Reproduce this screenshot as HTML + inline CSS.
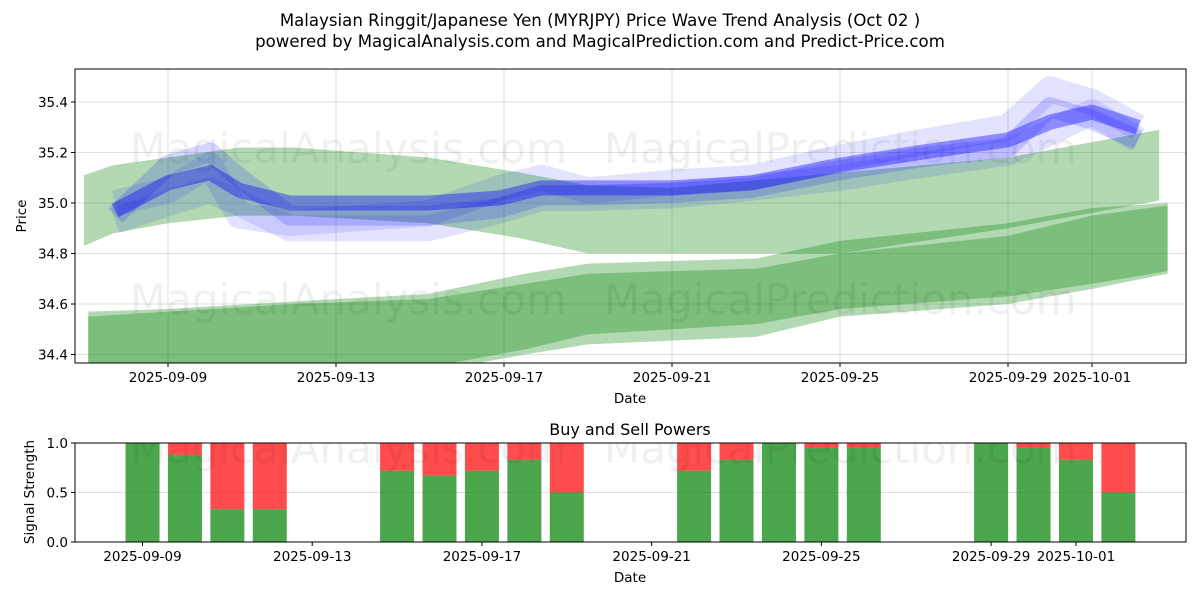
<!DOCTYPE html>
<html><head><meta charset="utf-8"><style>
html,body{margin:0;padding:0;background:#fff}
svg{display:block;font-family:"DejaVu Sans","Liberation Sans",sans-serif}
</style></head><body>
<svg id="c" width="1200" height="600" xmlns="http://www.w3.org/2000/svg"></svg>
<script>
// ---- data ----
const tickDays = [0, 4, 8, 12, 16, 20, 22];
const tickLabels = ["2025-09-09","2025-09-13","2025-09-17","2025-09-21","2025-09-25","2025-09-29","2025-10-01"];
const priceTicks = [34.4, 34.6, 34.8, 35.0, 35.2, 35.4];
const bandADays = [-2, -1.3, 0, 1.7, 3, 6.2, 8.4, 10, 12, 16, 20, 23.6];
const bandAUpper = [35.11,35.15,35.18,35.22,35.22,35.18,35.12,35.07,35.06,35.12,35.18,35.29];
const bandALower = [34.83,34.88,34.92,34.95,34.95,34.92,34.86,34.80,34.80,34.80,34.90,35.01];
const bandBDays = [-1.9, 0, 3, 6.2, 8.5, 10, 14, 16, 20, 22, 23.8];
const bandBUpper = [34.55,34.57,34.60,34.62,34.68,34.72,34.74,34.80,34.87,34.95,34.99];
const bandBLower = [34.30,34.30,34.32,34.35,34.42,34.48,34.52,34.58,34.63,34.68,34.73];
const bandCUpper = [34.57,34.58,34.61,34.64,34.72,34.76,34.78,34.85,34.92,34.98,35.00];
const bandCLower = [34.27,34.28,34.30,34.33,34.40,34.44,34.47,34.55,34.60,34.66,34.72];
const waveDays = [-1.26,0,1,1.7,2.9,6.2,7.9,8.9,10,12,13.9,16,17.9,20,21,22,23.1];
const wave1 = [34.97,35.08,35.12,35.05,35.00,35.00,35.02,35.06,35.06,35.06,35.08,35.15,35.20,35.25,35.32,35.36,35.30];
const wave2 = [34.95,35.15,35.20,35.10,34.95,34.95,34.98,35.03,35.03,35.04,35.06,35.13,35.18,35.22,35.38,35.33,35.25];
const wave3 = [35.00,35.05,35.15,34.95,34.92,34.96,35.06,35.10,35.05,35.08,35.10,35.18,35.24,35.30,35.45,35.40,35.30];
const wave4 = [34.93,35.00,35.05,35.00,34.90,34.90,34.97,35.02,35.02,35.03,35.06,35.10,35.15,35.20,35.28,35.36,35.25];
const barDays = [0,1,2,3,6,7,8,9,10,13,14,15,16,17,20,21,22,23];
const buyVals = [1.0,0.88,0.33,0.33,0.72,0.67,0.72,0.83,0.5,0.72,0.83,1.0,0.95,0.95,1.0,0.95,0.83,0.5];
const sigTicks = [0.0, 0.5, 1.0];

// ---- scales ----
const X0=75, X1=1186;
const xs = d => 168 + d*42;
const xb = d => 142.5 + d*42.43;
const yTop=69, yBot=363;
const yp = v => 203 - (v-35.0)*252.5;
const bTop=443, bBot=542;
const yb = v => bBot - v*(bBot-bTop);
const FS=13.5;

const svg=document.getElementById('c');
const NS="http://www.w3.org/2000/svg";
function mk(tag, attrs, parent){const e=document.createElementNS(NS,tag);for(const k in attrs)e.setAttribute(k,attrs[k]);(parent||svg).appendChild(e);return e;}
function txt(s, attrs, parent){const e=mk('text',attrs,parent);e.textContent=s;return e;}

// titles
let t=txt("Malaysian Ringgit/Japanese Yen (MYRJPY) Price Wave Trend Analysis (Oct 02 )",{x:600,y:26,'text-anchor':'middle','font-size':16.6,fill:'#000'});


t=txt("powered by MagicalAnalysis.com and MagicalPrediction.com and Predict-Price.com",{x:600,y:47,'text-anchor':'middle','font-size':16.6,fill:'#000'});



// ---- top plot ----
const defs=mk('defs',{});
const cp=mk('clipPath',{id:'cp1'},defs);
mk('rect',{x:X0,y:yTop,width:X1-X0,height:yBot-yTop},cp);
const g=mk('g',{'clip-path':'url(#cp1)'});


tickDays.forEach(d=>mk('line',{x1:xs(d),x2:xs(d),y1:yTop,y2:yBot,stroke:'#b0b0b0','stroke-opacity':0.5,'stroke-width':0.8},g));
priceTicks.forEach(v=>mk('line',{x1:X0,x2:X1,y1:yp(v),y2:yp(v),stroke:'#b0b0b0','stroke-opacity':0.5,'stroke-width':0.8},g));

function band(days, up, lo, name){
  let pts=days.map((d,i)=>xs(d)+','+yp(up[i]));
  for(let i=days.length-1;i>=0;i--)pts.push(xs(days[i])+','+yp(lo[i]));
  const p=mk('polygon',{points:pts.join(' '),fill:'#008000','fill-opacity':0.3},g);
  
  
}
band(bandADays,bandAUpper,bandALower,'upper-trend-band');
band(bandBDays,bandBUpper,bandBLower,'lower-trend-band');
band(bandBDays,bandCUpper,bandCLower,'lower-trend-band-outer');

[['MagicalAnalysis.com',130,163],['MagicalPrediction.com',604,163],['MagicalAnalysis.com',130,314],['MagicalPrediction.com',604,314]].forEach(w=>{
  const e=txt(w[0],{x:w[1],y:w[2],'font-size':42,fill:'#000','fill-opacity':0.06},g);
  
  
});

function wave(vals, width, op, name){
  const pts=waveDays.map((d,i)=>xs(d)+','+yp(vals[i])).join(' ');
  const p=mk('polyline',{points:pts,fill:'none',stroke:'#0000ff','stroke-opacity':op,'stroke-width':width,'stroke-linejoin':'round'},g);
  
  
}
wave(wave3,26,0.11,'wave-series-3');
wave(wave4,26,0.11,'wave-series-4');
wave(wave2,20,0.16,'wave-series-2');
wave(wave1,15,0.38,'wave-series-1');

mk('rect',{x:X0,y:yTop,width:X1-X0,height:yBot-yTop,fill:'none',stroke:'#000','stroke-width':1});

tickDays.forEach((d,i)=>{
  mk('line',{x1:xs(d),x2:xs(d),y1:yBot,y2:yBot+4,stroke:'#000'});
  const e=txt(tickLabels[i],{x:xs(d),y:yBot+19,'text-anchor':'middle','font-size':FS,fill:'#000'});
  
  
});
priceTicks.forEach(v=>{
  mk('line',{x1:X0-4,x2:X0,y1:yp(v),y2:yp(v),stroke:'#000'});
  const e=txt(v.toFixed(1),{x:X0-7,y:yp(v)+5,'text-anchor':'end','font-size':FS,fill:'#000'});
  
  
});
t=txt("Date",{x:630,y:403,'text-anchor':'middle','font-size':FS,fill:'#000'});


t=txt("Price",{x:0,y:0,'text-anchor':'middle','font-size':FS,fill:'#000',transform:'translate(26,216) rotate(-90)'});



// ---- bottom plot ----
const cp2=mk('clipPath',{id:'cp2'},defs);
mk('rect',{x:X0,y:bTop,width:X1-X0,height:bBot-bTop},cp2);
const g2=mk('g',{'clip-path':'url(#cp2)'});


sigTicks.forEach(v=>mk('line',{x1:X0,x2:X1,y1:yb(v),y2:yb(v),stroke:'#b0b0b0','stroke-opacity':0.5,'stroke-width':0.8},g2));
barDays.forEach((d,i)=>{
  const cx=xb(d), w=34, b=buyVals[i];
  const r1=mk('rect',{x:cx-w/2,y:yb(1),width:w,height:yb(b)-yb(1),fill:'#ff0000','fill-opacity':0.7},g2);
  
  
  const r2=mk('rect',{x:cx-w/2,y:yb(b),width:w,height:yb(0)-yb(b),fill:'#008000','fill-opacity':0.7},g2);
  
  
});
[['MagicalAnalysis.com',130,463],['MagicalPrediction.com',604,463]].forEach(w=>{
  const e=txt(w[0],{x:w[1],y:w[2],'font-size':42,fill:'#000','fill-opacity':0.06},g2);
  
  
});
mk('rect',{x:X0,y:bTop,width:X1-X0,height:bBot-bTop,fill:'none',stroke:'#000','stroke-width':1});
tickDays.forEach((d,i)=>{
  mk('line',{x1:xb(d),x2:xb(d),y1:bBot,y2:bBot+4,stroke:'#000'});
  const e=txt(tickLabels[i],{x:xb(d),y:bBot+19,'text-anchor':'middle','font-size':FS,fill:'#000'});
  
  
});
sigTicks.forEach(v=>{
  mk('line',{x1:X0-4,x2:X0,y1:yb(v),y2:yb(v),stroke:'#000'});
  const e=txt(v.toFixed(1),{x:X0-7,y:yb(v)+5,'text-anchor':'end','font-size':FS,fill:'#000'});
  
  
});
t=txt("Buy and Sell Powers",{x:630,y:435,'text-anchor':'middle','font-size':16,fill:'#000'});


t=txt("Date",{x:630,y:582,'text-anchor':'middle','font-size':FS,fill:'#000'});


t=txt("Signal Strength",{x:0,y:0,'text-anchor':'middle','font-size':FS,fill:'#000',transform:'translate(34,492) rotate(-90)'});


</script>
</body></html>
